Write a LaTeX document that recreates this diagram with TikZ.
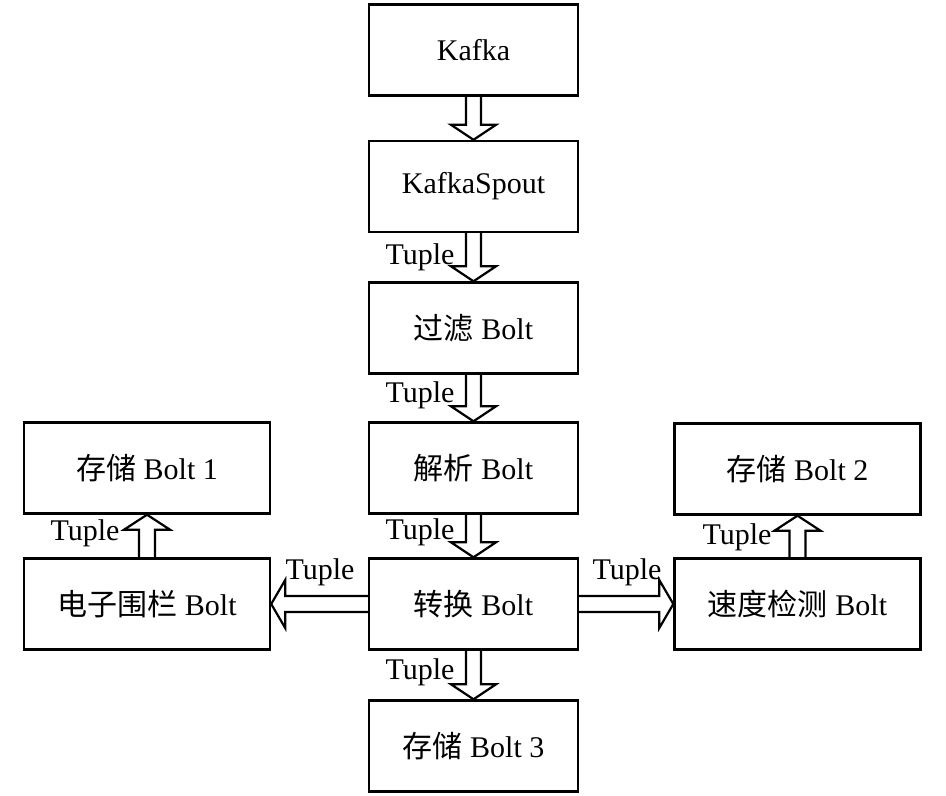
\documentclass[tikz,border=0pt]{standalone}
\usepackage{fontspec}
\setmainfont{Liberation Serif}
\newfontfamily\cjk{Noto Sans CJK SC}
\usetikzlibrary{calc}
\newcommand\blkdown[2]{\draw[blk] ($(#1.south)+(-7.5,0)$) -- ($(#2.north)+(-7.5,-15)$) -- ($(#2.north)+(-22.5,-15)$) -- (#2.north) -- ($(#2.north)+(22.5,-15)$) -- ($(#2.north)+(7.5,-15)$) -- ($(#1.south)+(7.5,0)$);}
\newcommand\blkup[2]{\draw[blk] ($(#1.north)+(-8,0)$) -- ($(#2.south)+(-8,15)$) -- ($(#2.south)+(-23,15)$) -- (#2.south) -- ($(#2.south)+(23,15)$) -- ($(#2.south)+(8,15)$) -- ($(#1.north)+(8,0)$);}
\newcommand\blkleft[2]{\draw[blk] ($(#1.west)+(0,-8)$) -- ($(#2.east)+(14,-8)$) -- ($(#2.east)+(14,-24)$) -- (#2.east) -- ($(#2.east)+(14,24)$) -- ($(#2.east)+(14,8)$) -- ($(#1.west)+(0,8)$);}
\newcommand\blkright[2]{\draw[blk] ($(#1.east)+(0,-8)$) -- ($(#2.west)+(-14,-8)$) -- ($(#2.west)+(-14,-24)$) -- (#2.west) -- ($(#2.west)+(-14,24)$) -- ($(#2.west)+(-14,8)$) -- ($(#1.east)+(0,8)$);}
\begin{document}
\begin{tikzpicture}[x=0.5pt,y=-0.5pt,
  box/.style={draw,line width=1.2pt,minimum width=104.5pt,minimum height=45.5pt,inner sep=0pt,font=\fontsize{15}{18}\selectfont},
  sbox/.style={box,minimum width=123pt},
  blk/.style={draw,line width=1.1pt,line join=miter},
  lbl/.style={font=\fontsize{15}{18}\selectfont,inner sep=0pt}]
\useasboundingbox (0,0) rectangle (946,796);
\node[box] (kafka) at (473.5,50) {Kafka};
\node[box] (spout) at (473.5,186.5) {KafkaSpout};
\node[box] (filter) at (473.5,328) {{\cjk 过滤} Bolt};
\node[box] (parse) at (473.5,468) {{\cjk 解析} Bolt};
\node[box] (conv) at (473.5,604) {{\cjk 转换} Bolt};
\node[box] (store3) at (473.5,746) {{\cjk 存储} Bolt 3};
\node[sbox] (store1) at (147,468) {{\cjk 存储} Bolt 1};
\node[sbox] (fence) at (147,604) {{\cjk 电子围栏} Bolt};
\node[sbox] (store2) at (797.5,469) {{\cjk 存储} Bolt 2};
\node[sbox] (speed) at (797.5,604) {{\cjk 速度检测} Bolt};
\blkdown{kafka}{spout}
\blkdown{spout}{filter}
\blkdown{filter}{parse}
\blkdown{parse}{conv}
\blkdown{conv}{store3}
\blkup{fence}{store1}
\blkup{speed}{store2}
\blkleft{conv}{fence}
\blkright{conv}{speed}
\node[lbl] (t1) at (420,257) {Tuple};
\node[lbl] (t2) at (420,395) {Tuple};
\node[lbl] (t3) at (420,532) {Tuple};
\node[lbl] (t4) at (420,672) {Tuple};
\node[lbl] (t5) at (85,533) {Tuple};
\node[lbl] (t6) at (737,537) {Tuple};
\node[lbl] (t7) at (320,572) {Tuple};
\node[lbl] (t8) at (627,572) {Tuple};
\end{tikzpicture}
\end{document}
